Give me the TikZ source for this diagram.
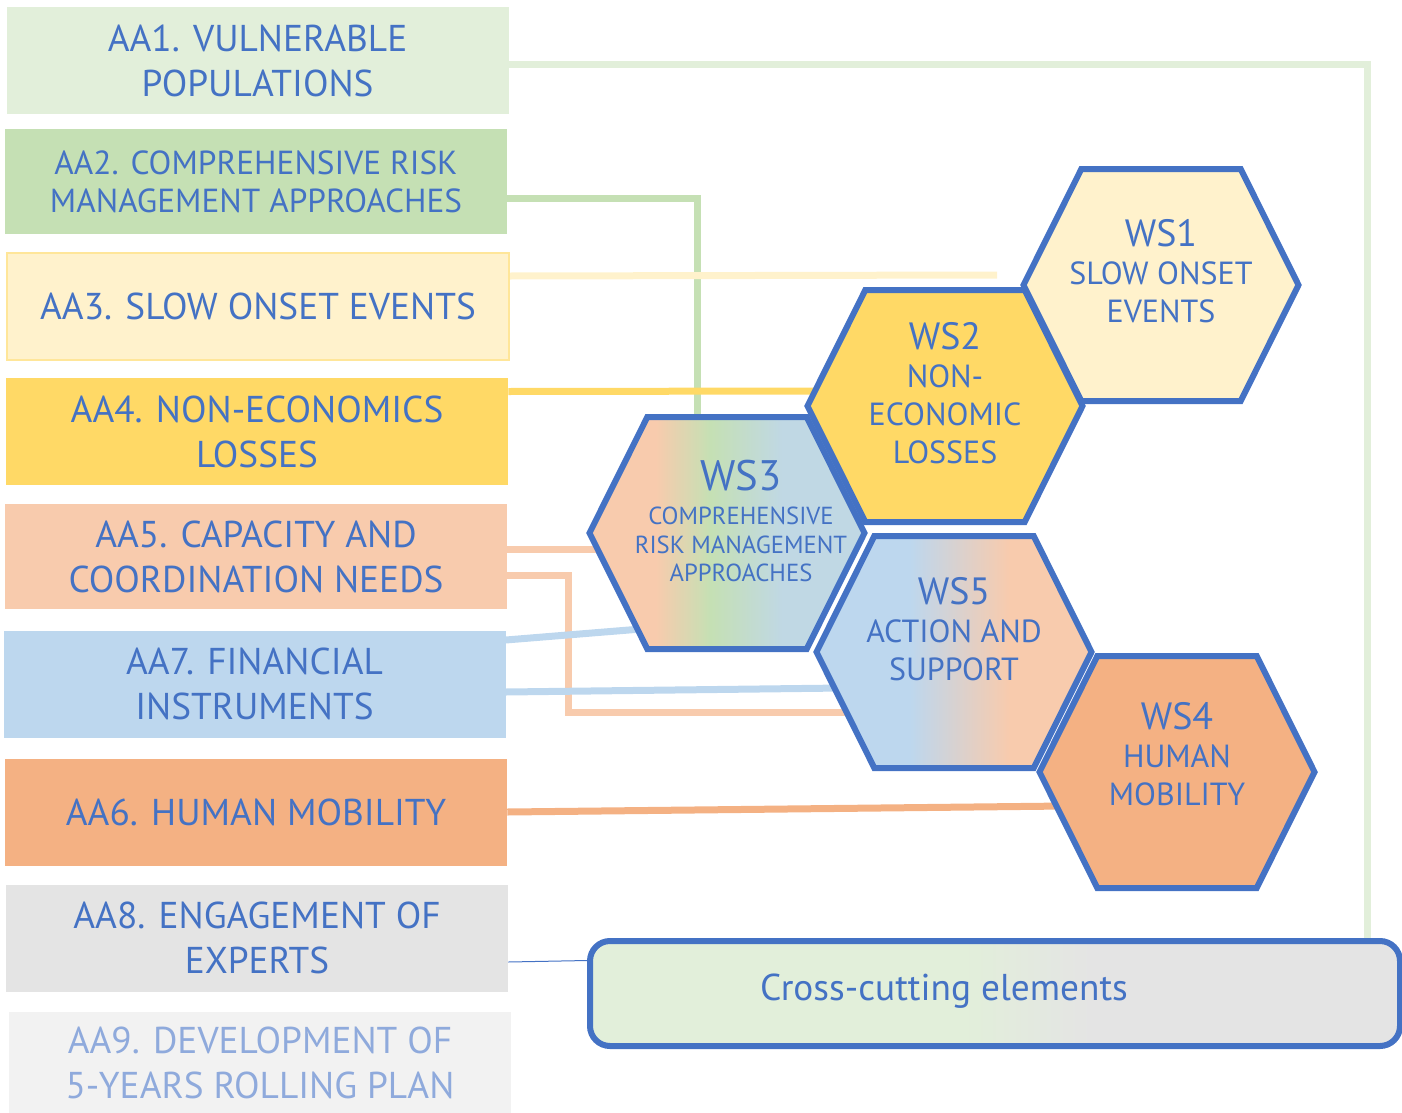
\documentclass[tikz,border=0pt]{standalone}
\usepackage{fontspec}
\setmainfont{PT Sans}
\usepackage{xcolor}
\usepackage{tikz}
\usetikzlibrary{shapes.geometric,shapes.symbols,calc}

\definecolor{txtblue}{HTML}{4472C4}
\definecolor{mint}{HTML}{E2EFDA}
\definecolor{leaf}{HTML}{C5E0B4}
\definecolor{cream}{HTML}{FFF2CC}
\definecolor{creamedge}{HTML}{FFE699}
\definecolor{sun}{HTML}{FFD966}
\definecolor{peach}{HTML}{F8CBAD}
\definecolor{sky}{HTML}{BDD7EE}
\definecolor{steel}{HTML}{C0D8E4}
\definecolor{apricot}{HTML}{F4B183}
\definecolor{fog}{HTML}{E4E4E4}
\definecolor{mist}{HTML}{F2F2F2}
\definecolor{paletxt}{HTML}{8FAADC}

\pgfdeclarehorizontalshading{wsthree}{100bp}{color(0bp)=(peach); color(37bp)=(peach); color(47bp)=(leaf); color(60bp)=(steel); color(100bp)=(steel)}
\pgfdeclarehorizontalshading{wsfive}{100bp}{color(0bp)=(sky); color(42bp)=(sky); color(60bp)=(peach); color(100bp)=(peach)}
\pgfdeclarehorizontalshading{crosscut}{100bp}{color(0bp)=(mint); color(48bp)=(mint); color(56bp)=(fog); color(100bp)=(fog)}

\pgfdeclarelayer{background}
\pgfsetlayers{background,main}

\newcommand\wslabel{\fontsize{28.5}{30}\selectfont}

\begin{document}
\begin{tikzpicture}[x=0.75pt,y=0.75pt,yscale=-1,xscale=1,
  aabox/.style={minimum width=376.5pt, minimum height=80.25pt, inner sep=0pt, align=center, text=txtblue, font=\fontsize{28}{33.75}\selectfont},
  hexa/.style={signal, signal to=west and east, signal pointer angle=127, minimum width=206.25pt, minimum height=174pt, inner sep=0pt, draw=txtblue, line width=4.5pt},
  wstext/.style={align=center, text=txtblue, inner sep=0pt, font=\fontsize{24}{28.5}\selectfont},
  link/.style={line width=5.25pt}]

\useasboundingbox (0,0) rectangle (1402,1113);

\draw (257.5,60.5) node [aabox, fill=mint] (aa1) {AA1. VULNERABLE\\POPULATIONS};

\draw (256,181.5) node [aabox, fill=leaf, minimum height=78.75pt, font=\fontsize{25}{28.5}\selectfont] (aa2) {AA2. COMPREHENSIVE RISK\\MANAGEMENT APPROACHES};

\draw (258,306) node [aabox, fill=cream, draw=creamedge, line width=1.5pt] (aa3) {AA3. SLOW ONSET EVENTS};

\draw (257,431.5) node [aabox, fill=sun] (aa4) {AA4. NON-ECONOMICS\\LOSSES};

\draw (256,556.5) node [aabox, fill=peach, minimum height=78.75pt] (aa5) {AA5. CAPACITY AND\\COORDINATION NEEDS};

\draw (254.5,684) node [aabox, fill=sky] (aa7) {AA7. FINANCIAL\\INSTRUMENTS};

\draw (256,812) node [aabox, fill=apricot] (aa6) {AA6. HUMAN MOBILITY};

\draw (257,938) node [aabox, fill=fog] (aa8) {AA8. ENGAGEMENT OF\\EXPERTS};

\draw (260,1062.5) node [aabox, fill=mist, minimum height=75.75pt, text=paletxt] (aa9) {AA9. DEVELOPMENT OF\\5-YEARS ROLLING PLAN};


\draw (1161,285) node [hexa, fill=cream] (ws1) {};

\draw (945,406) node [hexa, fill=sun] (ws2) {};

\draw (727,533) node [hexa, shade, shading=wsthree] (ws3) {};

\draw (954,652) node [hexa, shade, shading=wsfive] (ws5) {};

\draw (1177,772) node [hexa, fill=apricot] (ws4) {};

\draw (995,993.5) node [draw=txtblue, line width=4.5pt, rounded corners=15pt, minimum width=607.5pt, minimum height=78.75pt, shade, shading=crosscut] (ccut) {};


\draw (1161,271) node [wstext] (ws1t) {{\wslabel WS1}\\SLOW ONSET\\EVENTS};

\draw (945,393) node [wstext] (ws2t) {{\wslabel WS2}\\NON-\\ECONOMIC\\LOSSES};

\draw (741,521) node [wstext, font=\fontsize{18.5}{21.5}\selectfont] (ws3t) {{\fontsize{32}{32}\selectfont WS3}\\[4pt]COMPREHENSIVE\\RISK MANAGEMENT\\APPROACHES};

\draw (954,629) node [wstext] (ws5t) {{\wslabel WS5}\\ACTION AND\\SUPPORT};

\draw (1177,754) node [wstext] (ws4t) {{\wslabel WS4}\\HUMAN\\MOBILITY};

\draw (944,991) node [text=txtblue, inner sep=0pt, font=\fontsize{28}{32}\selectfont] (ccutt) {Cross-cutting elements};

\coordinate (ws1free) at (997,275);

\begin{pgfonlayer}{background}
\draw [link, mint] ($(aa1.east)+(0,4)$) -| ($(ccut.north east)+(-36,0)$);
\draw [link, leaf] ($(aa2.east)+(0,16.5)$) -| ($(ws3.north)+(-30,10)$);
\draw [link, cream] ($(aa3.east)+(0,-30)$) -- (ws1free);
\draw [link, sun] ($(aa4.east)+(0,-40)$) -- ($(ws2.west)+(20,-15)$);
\draw [link, peach] ($(aa5.east)+(0,-7.5)$) -- ($(ws3.west)+(20,16)$);
\draw [link, peach] ($(aa5.east)+(0,18.5)$) -- ++(61,0) |- ($(ws5.west)+(45,60)$);
\draw [link, sky] ($(aa7.east)+(0,-44)$) -- ($(ws3.west)+(55,96)$);
\draw [link, sky] ($(aa7.east)+(0,8)$) -- ($(ws5.west)+(30,36)$);
\draw [link, apricot] (aa6.east) -- ($(ws4.west)+(30,34)$);
\draw [txtblue, line width=0.75pt] ($(aa8.east)+(0,24)$) -- ($(ccut.west)+(0,-33)$);
\end{pgfonlayer}

\end{tikzpicture}
\end{document}
